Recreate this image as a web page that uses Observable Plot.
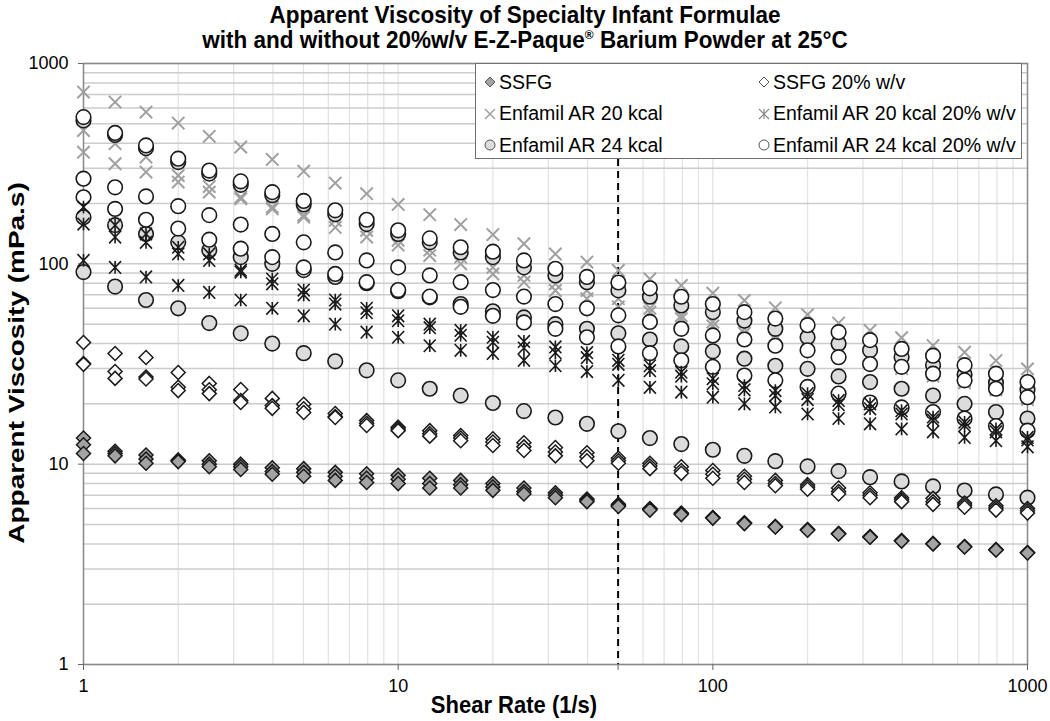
<!DOCTYPE html>
<html><head><meta charset="utf-8">
<script src="https://cdn.jsdelivr.net/npm/d3@7"></script>
<script src="https://cdn.jsdelivr.net/npm/@observablehq/plot@0.6"></script>
<style>
body{margin:0;background:#fff;font-family:"Liberation Sans",Arial,sans-serif;}
#wrap{position:relative;width:1050px;height:721px;overflow:hidden;}
.t{position:absolute;left:0;width:1050px;text-align:center;font-weight:bold;font-size:22.5px;line-height:26px;white-space:nowrap;transform:scaleY(1.06);}
.t sup{font-size:12px;line-height:0;}
#chart{position:absolute;left:0;top:52px;}
#xlabel{position:absolute;left:0;width:1028px;top:694px;text-align:center;font-weight:bold;font-size:22px;line-height:24px;transform:scaleY(1.05);}
#ylabel{position:absolute;left:-183px;top:351px;width:400px;text-align:center;font-weight:bold;font-size:21.5px;line-height:24px;white-space:nowrap;transform:rotate(-90deg) scale(1.3,1.0);}
#legend{position:absolute;left:475px;top:63px;width:547px;height:96px;background:#fff;border:1.5px solid #707070;box-sizing:border-box;font-size:19.5px;}
.li{position:absolute;display:flex;align-items:center;white-space:nowrap;height:24px;}
.li svg{margin-right:2px;}
</style></head>
<body><div id="wrap">
<div class="t" style="top:3px">Apparent Viscosity of Specialty Infant Formulae</div>
<div class="t" style="top:28px">with and without 20%w/v E-Z-Paque<sup>®</sup> Barium Powder at 25°C</div>
<div id="chart"></div>
<div id="xlabel">Shear Rate (1/s)</div>
<div id="ylabel">Apparent Viscosity (mPa.s)</div>
<div id="legend"></div>
</div>
<script>
// ---- data ----
const shearRate = [1, 1.26, 1.58, 2, 2.51, 3.16, 3.98, 5.01, 6.31, 7.94, 10, 12.6, 15.8, 20, 25.1, 31.6, 39.8, 50.1, 63.1, 79.4, 100, 126, 158, 200, 251, 316, 398, 501, 631, 794, 1000];

const ssfg = [
  [13.5,11.6,11.1,10.5,10.4,10.0,9.6,9.5,9.1,8.95,8.8,8.5,8.3,8.0,7.6,7.2,6.7,6.3,6.0,5.7,5.42,5.1,4.89,4.72,4.51,4.35,4.16,4.02,3.88,3.75,3.62],
  [12.5,11.3,10.6,10.4,10.0,9.7,9.2,9.1,8.7,8.5,8.4,8.0,7.9,7.7,7.3,7.0,6.6,6.2,5.95,5.65,5.4,5.08,4.87,4.7,4.5,4.33,4.15,4.01,3.87,3.74,3.61],
  [11.3,11.0,10.1,10.3,9.7,9.4,8.9,8.7,8.3,8.1,8.0,7.6,7.6,7.4,7.1,6.8,6.5,6.15,5.9,5.6,5.38,5.05,4.86,4.68,4.48,4.32,4.13,4.0,3.86,3.73,3.6]
];
const ssfg20 = [
  [40.5,35.7,34.1,28.7,25.3,23.6,21.3,19.9,17.9,16.5,15.3,14.7,13.9,13.4,12.8,12.1,11.4,10.7,10.1,9.7,9.3,8.7,8.3,7.9,7.6,7.2,6.8,6.75,6.4,6.2,6.0],
  [31.8,29,27.2,24.2,23.5,20.8,19.6,18.9,17.3,16.0,15.0,14.2,13.5,12.9,12.2,11.5,10.9,10.4,9.8,9.3,8.9,8.4,8.0,7.7,7.3,7.0,6.65,6.5,6.25,6.05,5.85],
  [31.5,26.8,26.6,23.3,22.5,20.3,19.0,18.1,17.1,15.6,14.7,13.8,13.1,12.4,11.7,11.0,10.4,10.1,9.5,9.0,8.5,8.1,7.8,7.5,7.1,6.8,6.5,6.3,6.1,5.9,5.7]
];
const enfamil20 = [
  [720,642,572,504,433,383,332,290,253,224,198,176,157,140,126,112,102,92.7,84,78,71.4,65.7,60.3,55.7,50.6,46.5,42.8,39.1,36.2,32.9,29.9],
  [463,398,341,276,243,215,192,175,165,147,131,117,108,96,87.5,79.5,73.6,67,60,55,51.2,47.4,43.9,39.9,37,34.2,31.1,28.3,26.2,24.2,21.6],
  [361,316,287,256,228,211,188,171,152,136,124,110,100,89,81,73.6,67,61,57.4,53.2,49,45,42,38.5,35.5,33,30,27.5,25.5,23.5,21]
];
const enfamil20w = [
  [192,156,141,121,112,93,84,74,66,60,55,50,46.5,43,41,38.5,36,33,31,28.8,26.7,24.7,23.3,22.5,20.8,20,18.5,17.2,16.2,15,13.6],
  [158,136,128,112,104,91,79.5,70,63,57,52,48,44,40.6,38,36,34,31.5,29.3,27.5,25.2,23.5,22,21,19.8,18.9,17.8,16.6,15.6,14.5,13.2],
  [104,96,86,78,72,66,60,55,50,45.6,43,39,37,35.7,33,31,29,26.2,24.2,22.9,21.6,20,19.3,17.8,16.9,15.9,15,14.5,13.6,13.1,12.2]
];
const enfamil24 = [
  [520,440,378,322,282,248,220,198,177,158,141,128,114,108,96,87.5,81,73.7,68.5,62,57.4,52,47.4,43,40,37,34.2,31.2,28,25.5,23.5],
  [171,156,141,128,117,108,100,93,86,80,73,68,63,58,54,50,47.4,45,41.9,38.7,36.6,33.6,31,29.9,27.4,25.7,23.8,22,20,18.2,16.9],
  [91,77,66,60,50.6,45,40,35.8,32.6,29.4,26.2,23.8,22,20.2,18.4,17.1,15.9,14.6,13.5,12.6,11.8,11.0,10.35,9.74,9.23,8.61,8.2,7.74,7.39,7.06,6.8]
];
const enfamil24w = [
  [540,450,390,335,292,258,228,206,185,166,147,134,121,115,104,94.5,86,80.7,75.5,68.5,63,57.4,53.3,49.4,45.6,41.6,37.6,34.8,31.2,28.3,25.7],
  [266,241,217,194,175,157,141,128,114,104,96,87.5,81,74,68.6,63,60,55.3,51.3,47.4,43.9,41.9,39,37,34.2,31.6,30.6,28.3,26.2,23.8,21.6],
  [215,188,166,150,132,119,108,96,89,81,74,68.6,61,55,51,47.4,43,38.7,35.8,33,30.6,27.7,26.2,24.3,22.5,20.3,19.2,18.2,16.9,15.5,14.7]
];
const seriesNames = ["SSFG","SSFG 20% w/v","Enfamil AR 20 kcal","Enfamil AR 20 kcal 20% w/v","Enfamil AR 24 kcal","Enfamil AR 24 kcal 20% w/v"];
const xTicks = [1, 10, 50, 100, 1000];
const yTicks = [1, 10, 100, 1000];

// ---- helpers ----
function rows(reps){ const out=[]; reps.forEach((r,k)=>r.forEach((v,i)=>out.push({x:shearRate[i], y:v, rep:k}))); return out; }
const minor = [];
for (const d of [1,10,100]) for (let m=1;m<=9;m++) minor.push(d*m);
minor.push(1000);

const asteriskSym = { draw(ctx, size){ const h=Math.sqrt(size/Math.PI); const w=h*0.95;
  ctx.moveTo(0,-h); ctx.lineTo(0,h); ctx.moveTo(-w,-h); ctx.lineTo(w,h); ctx.moveTo(-w,h); ctx.lineTo(w,-h);} };
const timesSym = { draw(ctx, size){ const h=Math.sqrt(size/Math.PI);
  ctx.moveTo(-h,-h); ctx.lineTo(h,h); ctx.moveTo(-h,h); ctx.lineTo(h,-h);} };

const dark = "#1a1a1a";
const chart = Plot.plot({
  width:1050, height:669, marginTop:11, marginRight:23, marginBottom:57, marginLeft:83,
  style:{fontFamily:"Liberation Sans, Arial, sans-serif", fontSize:"18px", background:"#fff", color:"#000"},
  x:{type:"log", domain:[1,1000]},
  y:{type:"log", domain:[1,1000]},
  marks:[
    Plot.ruleX(minor, {stroke:"#e3e3e3", strokeWidth:1.3}),
    Plot.ruleY(minor, {stroke:"#cccccc", strokeWidth:1.5}),
    Plot.ruleX([50], {stroke:"#000", strokeWidth:2, strokeDasharray:"7,5"}),
    Plot.frame({stroke:"#8a8a8a", strokeWidth:1.5}),
    Plot.axisX({ticks:xTicks, tickFormat:d=>String(d), tickSize:6, tickPadding:9, stroke:"#666", fill:"#000", label:null}),
    Plot.axisY({ticks:yTicks, tickFormat:d=>String(d), tickSize:5, tickPadding:10, stroke:"#666", fill:"#000", label:null}),
    Plot.dot(rows(ssfg), {x:"x", y:"y", symbol:"diamond2", r:6.3, fill:"#a3a3a3", stroke:dark, strokeWidth:1.5}),
    Plot.dot(rows(enfamil20), {x:"x", y:"y", symbol:timesSym, r:6.2, fill:"none", stroke:"#a0a0a0", strokeWidth:2}),
    Plot.dot(rows(enfamil24), {x:"x", y:"y", symbol:"circle", r:7.3, fill:"#dcdcdc", stroke:dark, strokeWidth:1.6}),
    Plot.dot(rows(enfamil24w), {x:"x", y:"y", symbol:"circle", r:7.3, fill:"#fff", stroke:dark, strokeWidth:1.6}),
    Plot.dot(rows(ssfg20), {x:"x", y:"y", symbol:"diamond2", r:6.3, fill:"#fff", stroke:dark, strokeWidth:1.5}),
    Plot.dot(rows(enfamil20w), {x:"x", y:"y", symbol:asteriskSym, r:6.3, fill:"none", stroke:dark, strokeWidth:1.6})
  ]
});
document.getElementById("chart").appendChild(chart);

// ---- legend ----
function icon(kind){
  const s = 14, c = 7;
  let inner = "";
  if (kind===0) inner = `<path d="M${c},${c-5}L${c+5},${c}L${c},${c+5}L${c-5},${c}Z" fill="#a3a3a3" stroke="#555" stroke-width="1"/>`;
  if (kind===1) inner = `<path d="M${c},${c-5}L${c+5},${c}L${c},${c+5}L${c-5},${c}Z" fill="#fff" stroke="#555" stroke-width="1"/>`;
  if (kind===2) inner = `<path d="M${c-5},${c-5}L${c+5},${c+5}M${c-5},${c+5}L${c+5},${c-5}" stroke="#a0a0a0" stroke-width="1.5"/>`;
  if (kind===3) inner = `<path d="M${c},${c-5}L${c},${c+5}M${c-5},${c-5}L${c+5},${c+5}M${c-5},${c+5}L${c+5},${c-5}" stroke="#888" stroke-width="1.2"/>`;
  if (kind===4) inner = `<circle cx="${c}" cy="${c}" r="5" fill="#dcdcdc" stroke="#555" stroke-width="1"/>`;
  if (kind===5) inner = `<circle cx="${c}" cy="${c}" r="5" fill="#fff" stroke="#555" stroke-width="1"/>`;
  return `<svg width="${s}" height="${s}">${inner}</svg>`;
}
const leg = document.getElementById("legend");
seriesNames.forEach((name,k)=>{
  const col = k%2, row = Math.floor(k/2);
  const d = document.createElement("div");
  d.className = "li";
  d.style.left = (col===0 ? 7 : 281) + "px";
  d.style.top = (6 + row*31.5) + "px";
  d.innerHTML = icon(k) + `<span>${name}</span>`;
  leg.appendChild(d);
});
</script>
</body></html>
